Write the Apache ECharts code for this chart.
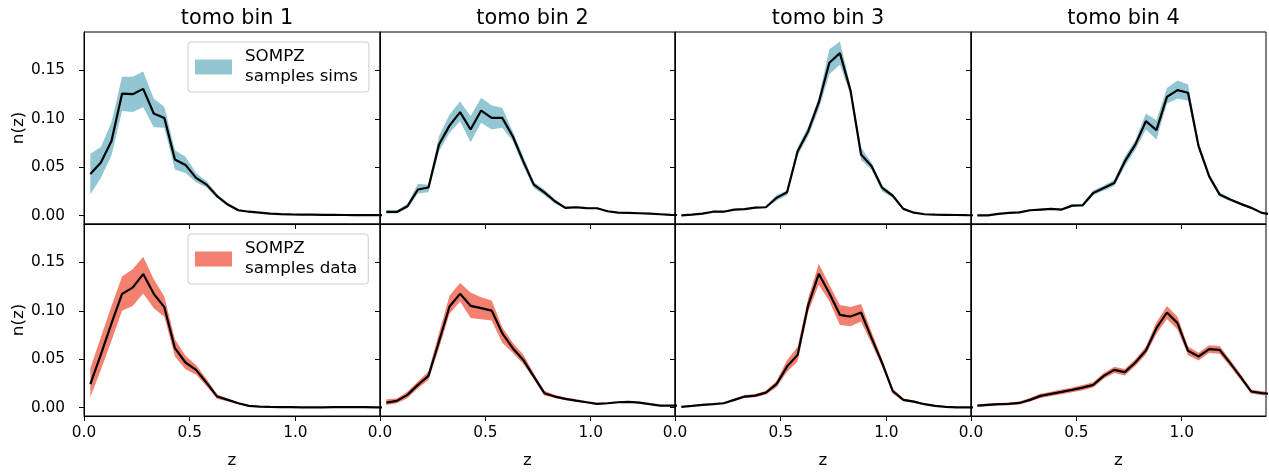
<!DOCTYPE html>
<html>
<head>
<meta charset="utf-8">
<script src="https://cdn.jsdelivr.net/npm/echarts@6/dist/echarts.min.js"></script>
<style>
html,body{margin:0;padding:0;background:#fff;}
#chart{width:1269px;height:472px;}
</style>
</head>
<body>
<div id="chart"></div>
<script>
// ---- data ----
const Z = [0.03,0.08,0.13,0.18,0.23,0.28,0.33,0.38,0.43,0.48,0.53,0.58,0.63,0.68,0.73,0.78,0.83,0.88,0.93,0.98,1.03,1.08,1.13,1.18,1.23,1.28,1.33,1.38,1.43];
const binTitles = ['tomo bin 1','tomo bin 2','tomo bin 3','tomo bin 4'];
const xTicks = [0, 0.5, 1.0];
const yTicks = [0, 0.05, 0.10, 0.15];

// sims (top row)
const simsMean1 = [0.043,0.055,0.077,0.126,0.1255,0.131,0.1055,0.101,0.058,0.0524,0.039,0.032,0.020,0.0114,0.0055,0.004,0.003,0.002,0.0015,0.0012,0.001,0.0009,0.0008,0.0007,0.0006,0.0005,0.0005,0.0004,0.0004];
const simsLo1 = [0.0217,0.039,0.062,0.108,0.107,0.112,0.0914,0.0907,0.0476,0.044,0.0345,0.029,0.018,0.010,0.0045,0.0033,0.0025,0.0016,0.0012,0.001,0.0008,0.0007,0.0006,0.0005,0.0004,0.0004,0.0003,0.0003,0.0003];
const simsHi1 = [0.064,0.071,0.0965,0.1435,0.1435,0.149,0.1207,0.1124,0.0676,0.0607,0.044,0.0355,0.022,0.013,0.0065,0.0047,0.0035,0.0024,0.0018,0.0014,0.0012,0.0011,0.001,0.0009,0.0008,0.0007,0.0007,0.0006,0.0006];

const simsMean2 = [0.0038,0.0038,0.0096,0.027,0.029,0.0734,0.093,0.107,0.089,0.1086,0.101,0.101,0.082,0.056,0.032,0.024,0.0148,0.008,0.0086,0.0078,0.0076,0.0045,0.003,0.0027,0.0024,0.002,0.0014,0.0007,0.0005];
const simsLo2 = [0.0022,0.0022,0.0075,0.0228,0.024,0.0665,0.0855,0.0975,0.0758,0.0959,0.089,0.0907,0.077,0.051,0.0286,0.021,0.0125,0.0068,0.0076,0.007,0.0068,0.004,0.0026,0.0023,0.002,0.0017,0.0011,0.0005,0.0003];
const simsHi2 = [0.0055,0.0055,0.012,0.0328,0.032,0.082,0.1045,0.118,0.1027,0.1217,0.1138,0.1114,0.087,0.0614,0.0345,0.027,0.017,0.0092,0.0096,0.0086,0.0084,0.005,0.0034,0.0031,0.0028,0.0023,0.0017,0.0009,0.0007];

const simsMean3 = [0.0003,0.001,0.002,0.004,0.004,0.0062,0.0066,0.0083,0.0086,0.0183,0.0241,0.0665,0.0872,0.117,0.158,0.168,0.1295,0.0631,0.051,0.0286,0.0205,0.0069,0.003,0.0014,0.001,0.0008,0.0006,0.0004,0.0003];
const simsLo3 = [0.0002,0.0007,0.0015,0.0033,0.0033,0.0055,0.0058,0.0075,0.0078,0.0155,0.021,0.062,0.082,0.11,0.146,0.156,0.125,0.0575,0.047,0.025,0.0185,0.006,0.0025,0.0011,0.0008,0.0006,0.0004,0.0003,0.0002];
const simsHi3 = [0.0005,0.0013,0.0025,0.0047,0.0047,0.0069,0.0074,0.0091,0.0094,0.021,0.026,0.0705,0.092,0.122,0.172,0.180,0.134,0.0705,0.0545,0.031,0.0225,0.0078,0.0035,0.0017,0.0012,0.001,0.0008,0.0006,0.0004];

const simsMean4 = [0.0003,0.0003,0.0017,0.0028,0.0034,0.0055,0.0062,0.0069,0.0062,0.0103,0.0107,0.0234,0.0286,0.0338,0.056,0.0734,0.0976,0.0883,0.1228,0.1297,0.127,0.0717,0.0407,0.0217,0.0166,0.0121,0.008,0.0028,0.001];
const simsLo4 = [0.0002,0.0002,0.0012,0.0022,0.0028,0.0047,0.0053,0.006,0.0053,0.0088,0.0092,0.021,0.026,0.0305,0.051,0.068,0.089,0.0786,0.1158,0.1207,0.119,0.068,0.038,0.0195,0.015,0.011,0.007,0.0022,0.0007];
const simsHi4 = [0.0005,0.0005,0.0022,0.0034,0.004,0.0063,0.0071,0.0078,0.0071,0.0118,0.0122,0.026,0.031,0.037,0.061,0.078,0.1055,0.0986,0.132,0.1397,0.1355,0.0755,0.0435,0.024,0.018,0.0132,0.009,0.0034,0.0013];

// data (bottom row)
const dataMean1 = [0.0242,0.055,0.087,0.1176,0.124,0.138,0.1176,0.1038,0.0614,0.0466,0.039,0.0255,0.0114,0.008,0.0045,0.0017,0.001,0.0007,0.0005,0.0004,0.0003,0.0003,0.0003,0.0004,0.0004,0.0004,0.0004,0.0003,0.0003];
const dataLo1 = [0.0110,0.039,0.069,0.100,0.105,0.118,0.1028,0.094,0.0527,0.0397,0.034,0.022,0.009,0.0065,0.0035,0.001,0.0006,0.0004,0.0003,0.0002,0.0002,0.0002,0.0002,0.0002,0.0002,0.0002,0.0002,0.0002,0.0002];
const dataHi1 = [0.0407,0.073,0.105,0.1355,0.143,0.156,0.1328,0.1148,0.0707,0.0535,0.044,0.0295,0.0135,0.0095,0.0055,0.0025,0.0015,0.001,0.0008,0.0006,0.0005,0.0005,0.0005,0.0006,0.0006,0.0006,0.0006,0.0005,0.0005];

const dataMean2 = [0.0052,0.0069,0.0131,0.0235,0.0328,0.0683,0.1045,0.1176,0.1052,0.1028,0.1003,0.077,0.0614,0.0493,0.032,0.0149,0.0114,0.009,0.0072,0.0055,0.0038,0.0045,0.0055,0.0059,0.0052,0.0035,0.0021,0.0021,0.002];
const dataLo2 = [0.0028,0.0045,0.0096,0.020,0.0286,0.0614,0.097,0.1097,0.0925,0.0914,0.09,0.067,0.0566,0.045,0.0295,0.0125,0.0098,0.0077,0.006,0.0045,0.003,0.0037,0.0047,0.005,0.0044,0.0028,0.0015,0.0015,0.0014];
const dataHi2 = [0.0086,0.0095,0.0165,0.027,0.0372,0.077,0.1155,0.1287,0.119,0.114,0.1107,0.083,0.067,0.0545,0.0355,0.0175,0.013,0.0105,0.0085,0.0066,0.0047,0.0054,0.0064,0.0068,0.006,0.0043,0.0028,0.0028,0.0027];

const dataMean3 = [0.0007,0.0017,0.0028,0.0035,0.0045,0.008,0.0114,0.0124,0.0155,0.0242,0.0424,0.0545,0.106,0.1383,0.1183,0.0959,0.0941,0.0983,0.0718,0.0459,0.017,0.008,0.0062,0.0035,0.0017,0.0007,0.0003,0.0003,0.0003];
const dataLo3 = [0.0004,0.0012,0.0022,0.0028,0.0037,0.0068,0.0098,0.0107,0.0135,0.021,0.037,0.0476,0.099,0.1269,0.110,0.0855,0.084,0.089,0.066,0.042,0.0145,0.0065,0.005,0.0027,0.0012,0.0004,0.0001,0.0001,0.0001];
const dataHi3 = [0.001,0.0022,0.0034,0.0042,0.0053,0.0092,0.013,0.0141,0.0175,0.0275,0.049,0.063,0.113,0.1486,0.127,0.106,0.104,0.107,0.078,0.050,0.0195,0.0095,0.0074,0.0043,0.0022,0.001,0.0005,0.0005,0.0005];

const dataMean4 = [0.0021,0.0028,0.0035,0.0038,0.0048,0.008,0.0121,0.0142,0.0162,0.0183,0.0207,0.0235,0.0328,0.039,0.0366,0.0466,0.059,0.0821,0.0983,0.0873,0.0587,0.0528,0.0604,0.0597,0.046,0.0315,0.0166,0.0149,0.014];
const dataLo4 = [0.0009,0.0015,0.0022,0.0024,0.0033,0.0062,0.0099,0.0119,0.0138,0.0158,0.018,0.0207,0.0298,0.0357,0.0333,0.0431,0.055,0.0761,0.0915,0.0808,0.0542,0.0488,0.0564,0.0557,0.0425,0.0285,0.0144,0.0129,0.012];
const dataHi4 = [0.0033,0.0041,0.0048,0.0052,0.0063,0.0098,0.0143,0.0165,0.0186,0.0208,0.0234,0.0263,0.0358,0.0423,0.0399,0.0501,0.063,0.0881,0.1051,0.0938,0.0632,0.0568,0.0644,0.0637,0.0495,0.0345,0.0188,0.0169,0.016];

const rowNames = ['SOMPZ\nsamples sims', 'SOMPZ\nsamples data'];
const rowColors = ['#93c6d3', '#f4806f'];
const rows = [
  [[simsMean1,simsLo1,simsHi1],[simsMean2,simsLo2,simsHi2],[simsMean3,simsLo3,simsHi3],[simsMean4,simsLo4,simsHi4]],
  [[dataMean1,dataLo1,dataHi1],[dataMean2,dataLo2,dataHi2],[dataMean3,dataLo3,dataHi3],[dataMean4,dataLo4,dataHi4]]
];

// ---- layout ----
const FONT = 'DejaVu Sans';
const colLeft = [84, 380, 675, 971];
const colWidth = [296, 295, 296, 295];
const rowTop = [32, 224];
const rowHeight = 192;
const XMIN = 0, XMAX = 1.4, YMIN = -0.0087, YMAX = 0.1898;

function bandRenderer(lo, hi, color) {
  return function (params, api) {
    if (params.dataIndex !== 0) return null;
    const pts = [];
    for (let i = 0; i < Z.length; i++) pts.push(api.coord([Z[i], hi[i]]));
    for (let i = Z.length - 1; i >= 0; i--) pts.push(api.coord([Z[i], lo[i]]));
    return {
      type: 'polygon',
      shape: {points: pts},
      style: {fill: color, stroke: null},
      silent: true
    };
  };
}

const grids = [], xAxes = [], yAxes = [], series = [], titles = [];
for (let r = 0; r < 2; r++) {
  for (let c = 0; c < 4; c++) {
    const g = r * 4 + c;
    grids.push({left: colLeft[c], top: rowTop[r], width: colWidth[c], height: rowHeight,
      show: true, borderColor: '#000', borderWidth: 1, backgroundColor: 'transparent', containLabel: false});
    xAxes.push({
      type: 'value', gridIndex: g, min: XMIN, max: XMAX,
      name: r === 1 ? 'z' : '', nameLocation: 'middle', nameGap: 36,
      nameTextStyle: {fontFamily: FONT, fontSize: 16.7, color: '#000'},
      axisLine: {show: true, onZero: false, lineStyle: {color: '#000', width: 1}},
      axisTick: {show: true, length: 5, customValues: xTicks, lineStyle: {color: '#000', width: 1}},
      axisLabel: {show: r === 1, customValues: xTicks, margin: 10, fontFamily: FONT, fontSize: 15.3, color: '#000',
        formatter: v => v.toFixed(1)},
      splitLine: {show: false}
    });
    yAxes.push({
      type: 'value', gridIndex: g, min: YMIN, max: YMAX,
      name: c === 0 ? 'n(z)' : '', nameLocation: 'middle', nameGap: 57, nameRotate: 90,
      nameTextStyle: {fontFamily: FONT, fontSize: 16.7, color: '#000'},
      axisLine: {show: true, onZero: false, lineStyle: {color: '#000', width: 1}},
      axisTick: {show: true, length: 5, customValues: yTicks, lineStyle: {color: '#000', width: 1}},
      axisLabel: {show: c === 0, customValues: yTicks, margin: 19, fontFamily: FONT, fontSize: 15.3, color: '#000',
        formatter: v => v.toFixed(2)},
      splitLine: {show: false}
    });
    const [mean, lo, hi] = rows[r][c];
    series.push({
      type: 'custom', xAxisIndex: g, yAxisIndex: g, name: rowNames[r],
      data: Z.map((z, i) => [z, lo[i], hi[i]]),
      encode: {x: 0, y: [1, 2]},
      renderItem: bandRenderer(lo, hi, rowColors[r]),
      itemStyle: {color: rowColors[r]},
      clip: true, silent: true, z: 2
    });
    series.push({
      type: 'line', xAxisIndex: g, yAxisIndex: g, name: 'mean' + g,
      data: Z.map((z, i) => [z, mean[i]]), symbol: 'none', silent: true, clip: true,
      lineStyle: {width: 2.2, color: '#000'}, itemStyle: {color: '#000'}, z: 3
    });
  }
}
for (let c = 0; c < 4; c++) {
  titles.push({text: binTitles[c], left: colLeft[c] + colWidth[c] / 2, top: 3, textAlign: 'center',
    textStyle: {fontFamily: FONT, fontSize: 20.8, fontWeight: 'normal', color: '#000'}});
}
const legends = [0, 1].map(r => ({
  data: [rowNames[r]], left: 188, top: rowTop[r] + 10, orient: 'vertical',
  padding: [5, 11, 5, 7], itemWidth: 37, itemHeight: 15, icon: 'rect',
  backgroundColor: 'rgba(255,255,255,0.8)', borderColor: '#cccccc', borderWidth: 1, borderRadius: 3,
  selectedMode: false,
  itemStyle: {color: rowColors[r]},
  textStyle: {fontFamily: FONT, fontSize: 16.7, lineHeight: 20, color: '#000', padding: [0, 0, 0, 8]}
}));

const chart = echarts.init(document.getElementById('chart'), null, {renderer: 'canvas'});
chart.setOption({
  animation: false,
  backgroundColor: '#fff',
  title: titles,
  legend: legends,
  grid: grids,
  xAxis: xAxes,
  yAxis: yAxes,
  series: series
});
</script>
</body>
</html>
